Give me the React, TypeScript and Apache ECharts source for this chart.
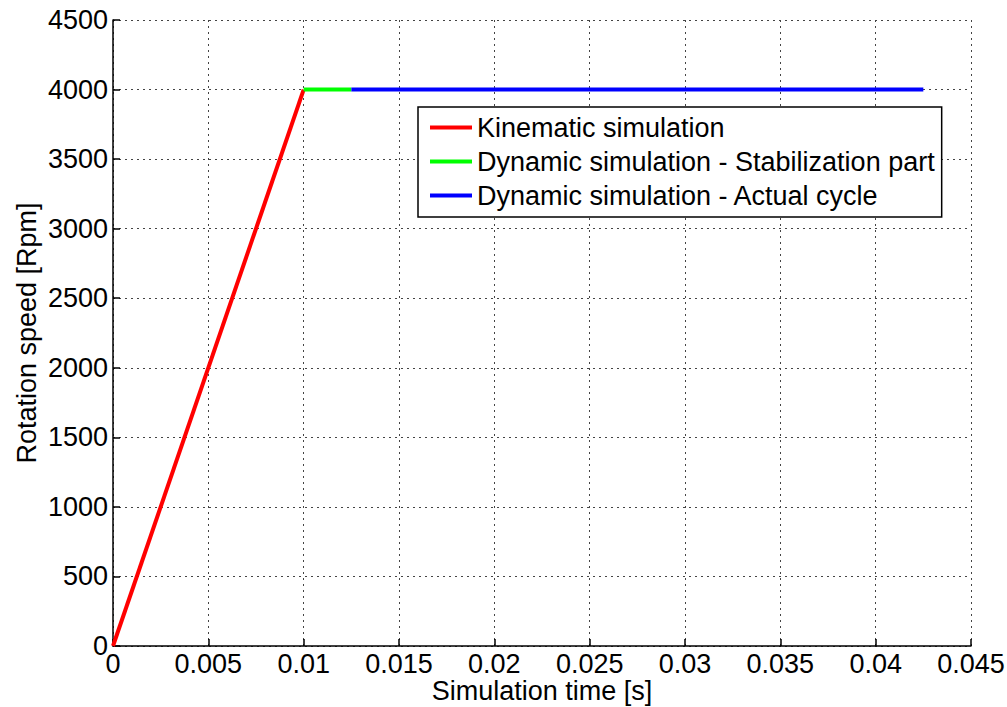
import React, { useEffect, useRef } from "react";
import * as echarts from "echarts";

const xTicks = [0, 0.005, 0.01, 0.015, 0.02, 0.025, 0.03, 0.035, 0.04, 0.045];
const yTicks = [0, 500, 1000, 1500, 2000, 2500, 3000, 3500, 4000, 4500];

const seriesNames = [
  "Kinematic simulation",
  "Dynamic simulation - Stabilization part",
  "Dynamic simulation - Actual cycle",
];
const seriesColors = ["#ff0000", "#00ff00", "#0000ff"];

const kinematicTime = [0, 0.01];
const kinematicSpeed = [0, 4000];
const stabilizationTime = [0.01, 0.0125];
const stabilizationSpeed = [4000, 4000];
const cycleTime = [0.0125, 0.0425];
const cycleSpeed = [4000, 4000];

const FONT = "'Liberation Sans', Arial, sans-serif";
const FS = 27;

export default function App() {
  const ref = useRef<HTMLDivElement>(null);
  useEffect(() => {
    if (!ref.current) return;
    const chart = echarts.init(ref.current, undefined, { renderer: "svg" });
    const pairs = (xs: number[], ys: number[]) => xs.map((x, i) => [x, ys[i]]);
    const datasets = [
      pairs(kinematicTime, kinematicSpeed),
      pairs(stabilizationTime, stabilizationSpeed),
      pairs(cycleTime, cycleSpeed),
    ];
    const gridStyle = { type: [2, 4] as any, color: "#444", width: 1 };
    chart.setOption({
      animation: false,
      backgroundColor: "#ffffff",
      grid: {
        left: 113,
        top: 20,
        width: 858,
        height: 626,
        containLabel: false,
        outerBoundsMode: "none",
      },
      xAxis: {
        type: "value",
        min: 0,
        max: 0.045,
        interval: 0.005,
        name: "Simulation time [s]",
        nameLocation: "middle",
        nameGap: 34,
        nameMoveOverlap: false,
        nameTextStyle: { fontFamily: FONT, fontSize: FS, color: "#000", lineHeight: 21 },
        axisLine: { show: true, onZero: false, lineStyle: { color: "#000", width: 1.5 } },
        axisTick: { show: true, inside: true, length: 7, lineStyle: { color: "#000", width: 1.5 } },
        axisLabel: {
          fontFamily: FONT,
          fontSize: FS,
          lineHeight: 21,
          color: "#000",
          margin: 7,
          hideOverlap: false,
          formatter: (v: number) => {
            const idx = xTicks.findIndex((t) => Math.abs(t - v) < 1e-9);
            return idx >= 0 ? String(xTicks[idx]) : "";
          },
        },
        splitLine: { show: true, lineStyle: gridStyle },
      },
      yAxis: {
        type: "value",
        min: 0,
        max: 4500,
        interval: 500,
        name: "Rotation speed [Rpm]",
        nameLocation: "middle",
        nameGap: 73,
        nameMoveOverlap: false,
        nameTextStyle: { fontFamily: FONT, fontSize: FS, color: "#000" },
        axisLine: { show: true, onZero: false, lineStyle: { color: "#000", width: 1.5 } },
        axisTick: { show: true, inside: true, length: 7, lineStyle: { color: "#000", width: 1.5 } },
        axisLabel: {
          fontFamily: FONT,
          fontSize: FS,
          color: "#000",
          margin: 5,
          hideOverlap: false,
          formatter: (v: number) => {
            const idx = yTicks.findIndex((t) => Math.abs(t - v) < 1e-6);
            return idx >= 0 ? String(yTicks[idx]) : "";
          },
        },
        splitLine: { show: true, lineStyle: gridStyle },
      },
      legend: {
        show: true,
        orient: "vertical",
        left: 418,
        top: 107,
        padding: [7, 7, 8, 10],
        itemWidth: 42,
        itemHeight: 27,
        itemGap: 7,
        backgroundColor: "#ffffff",
        borderColor: "#000",
        borderWidth: 1.5,
        borderRadius: 0,
        itemStyle: { opacity: 0 },
        lineStyle: { width: 4 },
        textStyle: { fontFamily: FONT, fontSize: FS, color: "#000" },
        data: seriesNames,
      },
      series: seriesNames.map((name, i) => ({
        name,
        type: "line",
        data: datasets[i],
        symbol: "none",
        showSymbol: false,
        lineStyle: { color: seriesColors[i], width: 4 },
        itemStyle: { color: seriesColors[i] },
        z: 3 + i,
      })),
    });
    return () => chart.dispose();
  }, []);
  return (
    <div
      ref={ref}
      style={{ position: "fixed", left: 0, top: 0, width: 1007, height: 707 }}
    />
  );
}
